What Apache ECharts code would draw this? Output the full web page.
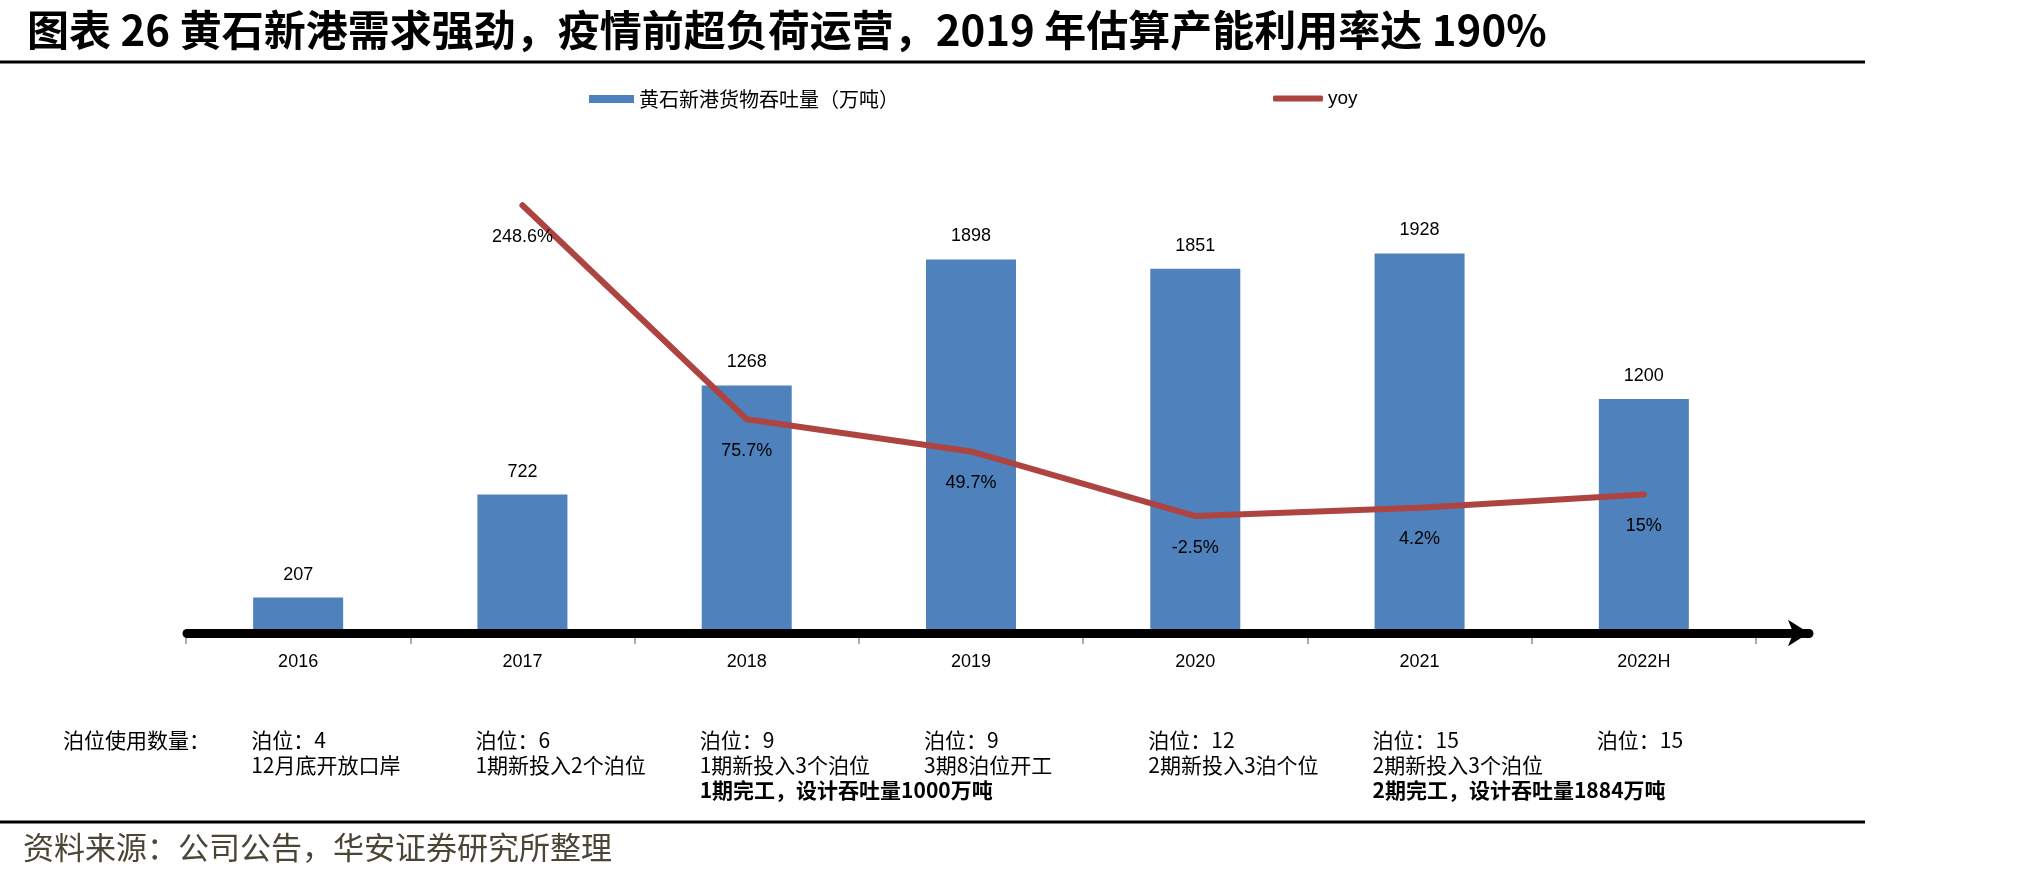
<!DOCTYPE html>
<html>
<head>
<meta charset="utf-8">
<script src="https://cdn.jsdelivr.net/npm/echarts@6/dist/echarts.min.js"></script>
<style>
  html, body { margin: 0; padding: 0; background: #fff; }
  #main { width: 2021px; height: 882px; }
</style>
</head>
<body>
<div id="main"></div>
<script>
// 数据
var categories = ['2016', '2017', '2018', '2019', '2020', '2021', '2022H']
var throughput = [207, 722, 1268, 1898, 1851, 1928, 1200]
var yoy = [null, 248.6, 75.7, 49.7, -2.5, 4.2, 15]
var berthCounts = ['泊位：4', '泊位：6', '泊位：9', '泊位：9', '泊位：12', '泊位：15', '泊位：15']
var berthNotes = ['12月底开放口岸', '1期新投入2个泊位', '1期新投入3个泊位', '3期8泊位开工', '2期新投入3泊个位', '2期新投入3个泊位', '']
var milestones = ['', '', '1期完工，设计吞吐量1000万吨', '', '', '2期完工，设计吞吐量1884万吨', '']

var NUM_FONT = '"Liberation Sans", "Noto Sans CJK SC", sans-serif'
var CJK_FONT = '"Noto Sans CJK SC", "Liberation Sans", sans-serif'

// 网格位置
var gridLeft = 186
var gridRight = 265
var gridTop = 99
var gridBottom = 882 - 629
var catW = (2021 - gridLeft - gridRight) / categories.length

var myChart = echarts.init(document.getElementById('main'))

// 标题线、资料来源、底部泊位说明
var graphics = [
  { type: 'line', shape: { x1: 0, y1: 62, x2: 1865, y2: 62 }, style: { stroke: '#000', lineWidth: 3 } },
  { type: 'line', shape: { x1: 0, y1: 822, x2: 1865, y2: 822 }, style: { stroke: '#000', lineWidth: 3 } },
  {
    type: 'text', left: 23, top: 832,
    style: { text: '资料来源：公司公告，华安证券研究所整理', font: '31px ' + CJK_FONT, fill: '#4a4636' }
  },
  {
    type: 'text', left: 63, top: 730,
    style: { text: '泊位使用数量：', font: '21px ' + CJK_FONT, fill: '#000' }
  }
]
categories.forEach(function (c, i) {
  var x = gridLeft + catW * (i + 0.5) - 47
  graphics.push({ type: 'text', left: x, top: 730, style: { text: berthCounts[i], font: '21px ' + CJK_FONT, fill: '#000' } })
  if (berthNotes[i]) {
    graphics.push({ type: 'text', left: x, top: 755, style: { text: berthNotes[i], font: '21px ' + CJK_FONT, fill: '#000' } })
  }
  if (milestones[i]) {
    graphics.push({ type: 'text', left: x, top: 780, style: { text: milestones[i], font: 'bold 21px ' + CJK_FONT, fill: '#000' } })
  }
})

myChart.setOption({
  backgroundColor: '#fff',
  animation: false,
  title: {
    text: '图表 26 黄石新港需求强劲，疫情前超负荷运营，2019 年估算产能利用率达 190%',
    left: 22,
    top: 4,
    textStyle: { fontSize: 42, fontWeight: 'bold', color: '#000', fontFamily: CJK_FONT }
  },
  legend: [
    {
      left: 584, top: 84,
      itemWidth: 45, itemHeight: 8, itemGap: 6,
      data: [{ name: '黄石新港货物吞吐量（万吨）', icon: 'rect' }],
      textStyle: { fontSize: 20, color: '#000', fontFamily: CJK_FONT }
    },
    {
      left: 1268, top: 84,
      itemWidth: 50, itemHeight: 6, itemGap: 6,
      data: [{ name: 'yoy', icon: 'roundRect' }],
      textStyle: { fontSize: 19, color: '#000', fontFamily: NUM_FONT }
    }
  ],
  grid: [
    { left: gridLeft, right: gridRight, top: gridTop, bottom: gridBottom },
    { left: 187, right: 2021 - 1809, top: gridTop, bottom: 882 - 633 }
  ],
  xAxis: [
    {
      type: 'category',
      gridIndex: 0,
      data: categories,
      axisLine: { show: false, onZero: false },
      axisTick: { show: true, length: 15, lineStyle: { color: '#aaa', width: 2 } },
      axisLabel: { margin: 24, fontSize: 18, color: '#000', fontFamily: NUM_FONT }
    },
    {
      type: 'value',
      gridIndex: 1,
      min: 0, max: 1,
      z: 10,
      axisLine: { show: true, onZero: false, symbol: ['none', 'arrow'], symbolSize: [20, 21], lineStyle: { color: '#000', width: 9 } },
      axisTick: { show: false },
      axisLabel: { show: false },
      splitLine: { show: false }
    }
  ],
  yAxis: [
    { type: 'value', gridIndex: 0, min: 50, max: 2700, show: false, splitLine: { show: false } },
    { type: 'value', gridIndex: 0, min: -93.7, max: 334.4, show: false, splitLine: { show: false } },
    { type: 'value', gridIndex: 1, show: false }
  ],
  series: [
    {
      name: '黄石新港货物吞吐量（万吨）',
      type: 'bar',
      xAxisIndex: 0,
      yAxisIndex: 0,
      barWidth: 90,
      data: throughput,
      itemStyle: { color: '#4f81bd' },
      label: { show: true, position: 'top', distance: 14, fontSize: 18, color: '#000', fontFamily: NUM_FONT }
    },
    {
      name: 'yoy',
      type: 'line',
      xAxisIndex: 0,
      yAxisIndex: 1,
      data: yoy,
      symbol: 'circle',
      symbolSize: 1,
      itemStyle: { color: '#ad4442' },
      lineStyle: { color: '#ad4442', width: 6, cap: 'round', join: 'round' },
      label: {
        show: true, position: 'bottom', distance: 22, fontSize: 18, color: '#000', fontFamily: NUM_FONT,
        formatter: function (p) { return p.value + '%' }
      },
      z: 5
    }
  ],
  graphic: graphics
})
</script>
</body>
</html>
